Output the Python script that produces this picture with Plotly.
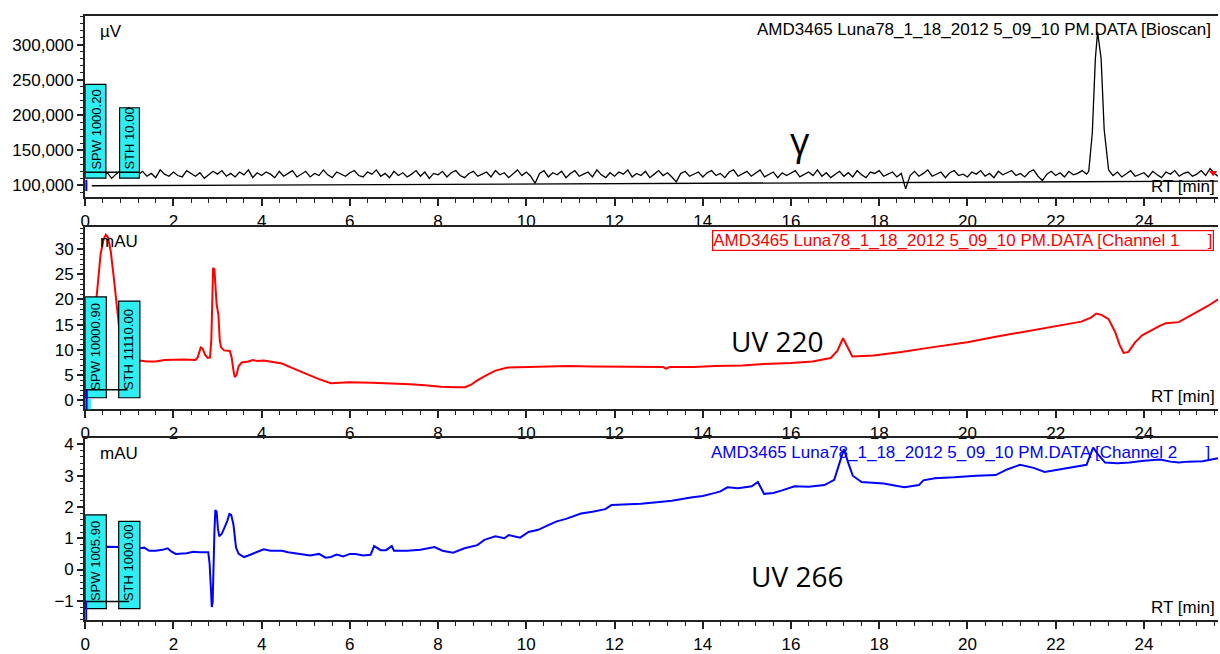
import plotly.graph_objects as go

# ---------------- data ----------------
# Bioscan (radio detector) trace: retention time [min] and signal [k µV]
bioscan_rt = [
    0.0, 0.1, 0.2, 0.3, 0.4, 0.5, 0.6, 0.7, 0.8, 0.9,
    1.0, 1.1, 1.2, 1.3, 1.4, 1.5, 1.6, 1.7, 1.8, 1.9,
    2.0, 2.1, 2.2, 2.3, 2.4, 2.5, 2.6, 2.7, 2.8, 2.9,
    3.0, 3.1, 3.2, 3.3, 3.4, 3.5, 3.6, 3.7, 3.8, 3.9,
    4.0, 4.1, 4.2, 4.3, 4.4, 4.5, 4.6, 4.7, 4.8, 4.9,
    5.0, 5.1, 5.2, 5.3, 5.4, 5.5, 5.6, 5.7, 5.8, 5.9,
    6.0, 6.1, 6.2, 6.3, 6.4, 6.5, 6.6, 6.7, 6.8, 6.9,
    7.0, 7.1, 7.2, 7.3, 7.4, 7.5, 7.6, 7.7, 7.8, 7.9,
    8.0, 8.1, 8.2, 8.3, 8.4, 8.5, 8.6, 8.7, 8.8, 8.9,
    9.0, 9.1, 9.2, 9.3, 9.4, 9.5, 9.6, 9.7, 9.8, 9.9,
    10.0, 10.1, 10.2, 10.3, 10.4, 10.5, 10.6, 10.7, 10.8, 10.9,
    11.0, 11.1, 11.2, 11.3, 11.4, 11.5, 11.6, 11.7, 11.8, 11.9,
    12.0, 12.1, 12.2, 12.3, 12.4, 12.5, 12.6, 12.7, 12.8, 12.9,
    13.0, 13.1, 13.2, 13.3, 13.4, 13.5, 13.6, 13.7, 13.8, 13.9,
    14.0, 14.1, 14.2, 14.3, 14.4, 14.5, 14.6, 14.7, 14.8, 14.9,
    15.0, 15.1, 15.2, 15.3, 15.4, 15.5, 15.6, 15.7, 15.8, 15.9,
    16.0, 16.1, 16.2, 16.3, 16.4, 16.5, 16.6, 16.7, 16.8, 16.9,
    17.0, 17.1, 17.2, 17.3, 17.4, 17.5, 17.6, 17.7, 17.8, 17.9,
    18.0, 18.1, 18.2, 18.3, 18.4, 18.5, 18.6, 18.7, 18.8, 18.9,
    19.0, 19.1, 19.2, 19.3, 19.4, 19.5, 19.6, 19.7, 19.8, 19.9,
    20.0, 20.1, 20.2, 20.3, 20.4, 20.5, 20.6, 20.7, 20.8, 20.9,
    21.0, 21.1, 21.2, 21.3, 21.4, 21.5, 21.6, 21.7, 21.8, 21.9,
    22.0, 22.1, 22.2, 22.3, 22.4, 22.5, 22.6, 22.7,
    22.75, 22.83, 22.9, 22.95, 23.03, 23.1, 23.2,
    23.3, 23.4, 23.5, 23.6, 23.7, 23.8, 23.9,
    24.0, 24.1, 24.2, 24.3, 24.4, 24.5, 24.6, 24.7, 24.8, 24.9,
    25.0, 25.1, 25.2, 25.3, 25.4, 25.5, 25.6, 25.68,
]
bioscan_kuv = [
    117, 113, 119, 115, 112, 118, 110, 116, 121, 114,
    118, 112, 115, 120, 113, 117, 111, 122, 116, 113,
    119, 114, 112, 121, 117, 113, 118, 110, 115, 120,
    116, 121, 113, 117, 112, 119, 115, 122, 111, 118,
    114, 119, 116, 111, 120, 113, 117, 121, 112, 116,
    120, 112, 117, 114, 122, 115, 111, 119, 116, 113,
    118, 121, 114, 112, 119, 116, 122, 113, 117, 111,
    120, 114, 118, 112, 116, 121, 113, 119, 110, 117,
    115, 120, 112, 118, 121, 114, 111, 117, 120, 113,
    116, 119, 112, 121, 115, 118, 111, 117, 122, 114,
    119, 113, 103, 117, 121, 112, 118, 115, 120, 111,
    117, 121, 113, 116, 119, 112, 122, 115, 111, 118,
    113, 119, 116, 122, 112, 117, 114, 120, 111, 116,
    121, 114, 118, 112, 105, 117, 120, 113, 116, 119,
    112, 118, 121, 114, 117, 111, 119, 122, 113, 116,
    120, 113, 117, 122, 112, 116, 119, 111, 118, 114,
    117, 121, 112, 116, 119, 114, 122, 113, 118, 111,
    116, 120, 113, 118, 112, 121, 115, 111, 119, 117,
    121, 113, 116, 119, 112, 117, 95, 114, 120, 113,
    117, 122, 113, 116, 119, 111, 118, 121, 114, 116,
    112, 119, 116, 121, 113, 117, 111, 120, 115, 118,
    121, 114, 117, 112, 119, 122, 113, 107, 116, 120,
    114, 118, 112, 120, 115, 117, 121, 116,
    120, 174, 280, 318, 280, 179, 122,
    114, 119, 112, 117, 121, 113, 116,
    118, 112, 120, 115, 111, 119, 116, 121, 113, 117,
    119, 113, 116, 121, 114, 124, 117, 113,
]
# integration baseline drawn under the Bioscan trace [k µV]
baseline_rt = [0.15, 25.68]
baseline_kuv = [99.5, 106.0]

# UV 220 nm (Channel 1) [mAU]
ch1_rt = [
    0.0, 0.1, 0.2, 0.28, 0.35, 0.42, 0.47, 0.52, 0.58, 0.64, 0.7, 0.74, 0.8, 0.9, 1.0,
    1.23, 1.4, 1.6, 1.8, 2.2, 2.5, 2.55, 2.62, 2.66, 2.72, 2.78, 2.83, 2.86, 2.88, 2.9,
    2.93, 2.95, 2.98, 3.02, 3.05, 3.08, 3.15, 3.28, 3.32, 3.36, 3.39, 3.43, 3.48, 3.55,
    3.7, 3.8, 3.9, 4.05, 4.46, 4.7, 5.02, 5.3, 5.57, 5.98, 6.5, 7.0, 7.37, 7.7, 8.06,
    8.4, 8.61, 8.75, 8.88, 9.1, 9.3, 9.58, 10.0, 10.5, 10.96, 11.5, 12.2, 13.1, 13.17,
    13.25, 13.8, 14.28, 14.9, 15.38, 16.0, 16.49, 16.9, 17.05, 17.18, 17.28, 17.39,
    17.87, 18.5, 19.26, 20.0, 20.64, 21.3, 22.02, 22.58, 22.8, 22.92, 23.05, 23.2,
    23.35, 23.45, 23.54, 23.65, 23.8, 23.96, 24.37, 24.5, 24.79, 25.0, 25.2, 25.45, 25.68,
]
ch1_mau = [
    8.0, 9.0, 15.0, 22.0, 29.0, 32.0, 32.8, 32.3, 29.5, 25.0, 20.0, 16.8, 12.0, 9.0, 8.0,
    7.9, 7.7, 7.7, 8.0, 8.1, 8.0, 8.5, 10.5, 10.3, 9.0, 8.4, 8.5, 12.0, 18.0, 26.2,
    26.0, 22.0, 19.0, 17.0, 12.0, 10.5, 9.9, 9.8, 8.5, 6.0, 4.6, 5.0, 6.8, 7.5,
    7.7, 8.0, 7.8, 7.9, 7.3, 6.4, 5.2, 4.2, 3.4, 3.6, 3.5, 3.4, 3.2, 3.0, 2.7,
    2.6, 2.6, 3.1, 3.9, 5.0, 5.9, 6.5, 6.6, 6.7, 6.8, 6.7, 6.7, 6.6, 6.3,
    6.6, 6.6, 6.8, 6.9, 7.2, 7.4, 7.7, 8.4, 9.8, 12.3, 10.5, 8.7,
    8.9, 9.6, 10.6, 11.5, 12.6, 13.6, 14.8, 15.6, 16.4, 17.2, 16.9, 16.1,
    13.5, 11.0, 9.4, 9.6, 11.5, 12.9, 14.8, 15.3, 15.5, 16.5, 17.4, 18.7, 20.0,
]

# UV 266 nm (Channel 2) [mAU]
ch2_rt = [
    0.0, 0.5, 0.8, 1.0, 1.23, 1.34, 1.45, 1.6, 1.75, 1.87, 1.95, 2.05, 2.3, 2.45, 2.6,
    2.79, 2.82, 2.85, 2.87, 2.89, 2.91, 2.93, 2.95, 2.98, 3.01, 3.04, 3.1, 3.16, 3.22,
    3.27, 3.31, 3.36, 3.42, 3.48, 3.6, 3.7, 3.8, 3.9, 4.05, 4.2, 4.46, 4.6, 4.88, 5.1,
    5.3, 5.45, 5.57, 5.7, 5.85, 6.0, 6.13, 6.3, 6.47, 6.55, 6.7, 6.82, 6.95, 7.0, 7.3,
    7.6, 7.92, 8.1, 8.34, 8.6, 8.89, 9.05, 9.3, 9.5, 9.6, 9.86, 10.05, 10.27, 10.5,
    10.69, 10.9, 11.24, 11.5, 11.79, 11.93, 12.3, 12.6, 12.9, 13.3, 13.73, 14.0, 14.28,
    14.4, 14.56, 14.8, 15.11, 15.25, 15.39, 15.6, 15.8, 16.08, 16.4, 16.76, 16.98,
    17.08, 17.2, 17.3, 17.4, 17.6, 18.1, 18.57, 18.9, 19.0, 19.26, 19.7, 20.2, 20.64,
    20.9, 21.19, 21.5, 21.75, 22.1, 22.44, 22.7, 22.85, 22.95, 23.12, 23.4, 23.68,
    24.0, 24.37, 24.6, 24.79, 25.0, 25.33, 25.5, 25.68,
]
ch2_mau = [
    0.70, 0.73, 0.72, 0.70, 0.68, 0.70, 0.60, 0.60, 0.63, 0.68, 0.58, 0.50, 0.52, 0.57, 0.55,
    0.55, 0.20, -0.60, -1.20, -1.05, 0.90, 1.20, 1.90, 1.85, 1.30, 1.06, 1.15, 1.35, 1.55,
    1.78, 1.75, 1.45, 0.70, 0.50, 0.40, 0.45, 0.50, 0.55, 0.65, 0.60, 0.60, 0.55, 0.50, 0.45,
    0.50, 0.38, 0.40, 0.48, 0.42, 0.50, 0.50, 0.45, 0.47, 0.75, 0.62, 0.62, 0.75, 0.60, 0.60,
    0.63, 0.72, 0.60, 0.54, 0.68, 0.78, 0.95, 1.06, 1.00, 1.10, 1.02, 1.20, 1.27, 1.42,
    1.54, 1.62, 1.79, 1.85, 1.93, 2.06, 2.08, 2.10, 2.14, 2.20, 2.30, 2.35, 2.45,
    2.50, 2.63, 2.60, 2.66, 2.80, 2.42, 2.45, 2.53, 2.66, 2.65, 2.70, 2.87,
    3.30, 3.85, 3.40, 3.00, 2.80, 2.75, 2.63, 2.70, 2.85, 2.92, 2.95, 3.00, 3.02,
    3.20, 3.35, 3.25, 3.12, 3.20, 3.28, 3.35, 3.90, 3.70, 3.42, 3.40, 3.42,
    3.48, 3.52, 3.45, 3.42, 3.45, 3.46, 3.50, 3.56,
]

title_text = "AMD3465 Luna78_1_18_2012 5_09_10 PM.DATA"
x_ticks = [0, 2, 4, 6, 8, 10, 12, 14, 16, 18, 20, 22, 24]

# ---------------- figure ----------------
W, H = 1220, 654
FONT = "Liberation Sans, Arial, sans-serif"
BIG = "Open Sans, Noto Sans, sans-serif"
CYAN = "#2eeef2"
AX = "#222222"


def px(x):
    return x / W


def py(y):
    return 1 - y / H


fig = go.Figure()
fig.add_trace(go.Scatter(x=bioscan_rt, y=[v * 1000 for v in bioscan_kuv], mode="lines",
                         line=dict(color="black", width=1.3), xaxis="x", yaxis="y"))
fig.add_trace(go.Scatter(x=baseline_rt, y=[v * 1000 for v in baseline_kuv], mode="lines",
                         line=dict(color="black", width=1.3), xaxis="x", yaxis="y"))
fig.add_trace(go.Scatter(x=[25.57], y=[118000], mode="markers",
                         marker=dict(symbol="triangle-down", color="red", size=7),
                         xaxis="x", yaxis="y"))
fig.add_trace(go.Scatter(x=ch1_rt, y=ch1_mau, mode="lines",
                         line=dict(color="#ff0000", width=2), xaxis="x2", yaxis="y2"))
fig.add_trace(go.Scatter(x=ch2_rt, y=ch2_mau, mode="lines",
                         line=dict(color="#0000ff", width=2), xaxis="x3", yaxis="y3"))

xdom = [80.5 / W, 1218 / W]
panels = [
    ("", [py(199), py(13)], [82900, 341000], 50000, 10000, ",d"),
    ("2", [py(416), py(229)], [-1.8, 34.4], 5, 1, ""),
    ("3", [py(631.7), py(445.7)], [-1.62, 4.19], 1, 0.2, ""),
]
layout_axes = {}
for suf, ydom, yr, dt, mdt, fmt in panels:
    layout_axes["xaxis" + suf] = dict(
        domain=xdom, anchor="y" + suf, range=[0, 25.68], tickmode="array",
        tickvals=x_ticks, ticks="outside", ticklen=7, tickwidth=1.5, tickcolor=AX,
        minor=dict(dtick=0.4, tick0=0, ticks="outside", ticklen=4, tickcolor=AX, tickwidth=1),
        showline=True, linecolor=AX, linewidth=2, mirror=True, showgrid=False,
        zeroline=False, tickfont=dict(family=FONT, size=17, color="black"),
    )
    layout_axes["yaxis" + suf] = dict(
        domain=ydom, anchor="x" + suf, range=yr, tick0=0, dtick=dt, ticks="outside",
        ticklen=6, tickwidth=1.5, tickcolor=AX, tickformat=fmt,
        minor=dict(dtick=mdt, tick0=0, ticks="outside", ticklen=3, tickcolor=AX, tickwidth=1),
        showline=True, linecolor=AX, linewidth=2, showgrid=False, zeroline=False,
        tickfont=dict(family=FONT, size=17, color="black"),
    )

shapes = []
annotations = []


def box(xr, yr_, x0, x1, y0, y1, fill=CYAN, lw=1.2):
    shapes.append(dict(type="rect", xref=xr, yref=yr_, x0=x0, x1=x1, y0=y0, y1=y1,
                       fillcolor=fill, line=dict(color="black", width=lw), layer="above"))


def hline(xr, yr_, x0, x1, y):
    shapes.append(dict(type="line", xref=xr, yref=yr_, x0=x0, x1=x1, y0=y, y1=y,
                       line=dict(color="black", width=1.5), layer="above"))


def vtext(xr, yr_, x, y, text):
    annotations.append(dict(xref=xr, yref=yr_, x=x, y=y, text=text, textangle=-90,
                            showarrow=False, xanchor="center", yanchor="bottom",
                            font=dict(family=FONT, size=13, color="black")))


# parameter boxes (SPW / STH) for the three panels
box("x", "y", 0, 0.47, 110300, 243600)
box("x", "y", 0.78, 1.23, 110300, 210300)
hline("x", "y", 0, 1.22, 118600)
vtext("x", "y", 0.235, 119000, "SPW 1000.20")
vtext("x", "y", 1.005, 119000, "STH 10.00")
box("x", "y", 0, 0.05, 92000, 108000, fill="#0000ff", lw=0)

box("x2", "y2", 0, 0.48, 0.52, 20.5)
box("x2", "y2", 0.76, 1.24, 0.52, 19.67)
hline("x2", "y2", 0, 0.96, 2.13)
vtext("x2", "y2", 0.24, 1.6, "SPW 10000.90")
vtext("x2", "y2", 1.0, 1.6, "STH 11110.00")
box("x2", "y2", 0, 0.06, -1.8, 2.1, fill="#0000ff", lw=0)
box("x2", "y2", 0.06, 0.13, -1.8, 0.3, fill=CYAN, lw=0)

box("x3", "y3", 0, 0.48, -1.25, 1.75)
box("x3", "y3", 0.76, 1.24, -1.25, 1.54)
hline("x3", "y3", 0, 1.0, -1.02)
vtext("x3", "y3", 0.24, -1.08, "SPW 1005.90")
vtext("x3", "y3", 1.0, -1.08, "STH 1000.00")
box("x3", "y3", 0, 0.045, -1.62, -1.0, fill="#0000ff", lw=0)


def ptext(x, y, text, size=17, color="black", xanchor="left", family=FONT, **kw):
    annotations.append(dict(xref="paper", yref="paper", x=px(x), y=py(y), text=text,
                            showarrow=False, xanchor=xanchor, yanchor="middle",
                            font=dict(family=family, size=size, color=color), **kw))


NB = "\u00a0"
ptext(93, 29, "µV")
ptext(93, 244, "mAU")
ptext(93, 461, "mAU")
ptext(1213, 27, title_text + " [Bioscan]", xanchor="right")
ptext(1214, 243, title_text + " [Channel 1" + NB * 6 + "]", color="#ff0000", xanchor="right",
      bordercolor="#ff0000", borderwidth=1.2, borderpad=0)
ptext(1212, 460, title_text + " [Channel 2" + NB * 6 + "]", color="#0000ff", xanchor="right")
ptext(1217, 188, "RT [min]", xanchor="right")
ptext(1217, 403, "RT [min]", xanchor="right")
ptext(1217, 619, "RT [min]", xanchor="right")
ptext(798, 140, "γ", size=38, xanchor="center", family=BIG)
ptext(775, 346, "UV 220", size=28, xanchor="center", family=BIG)
ptext(795, 586, "UV 266", size=28, xanchor="center", family=BIG)

fig.update_layout(
    width=W, height=H, autosize=False,
    margin=dict(l=0, r=0, t=0, b=0),
    paper_bgcolor="white", plot_bgcolor="white",
    showlegend=False, shapes=shapes, annotations=annotations,
    **layout_axes,
)

fig.write_html("out.html", config={"responsive": False, "displayModeBar": False},
               post_script="document.body.style.margin='0';document.body.style.overflow='hidden';")
